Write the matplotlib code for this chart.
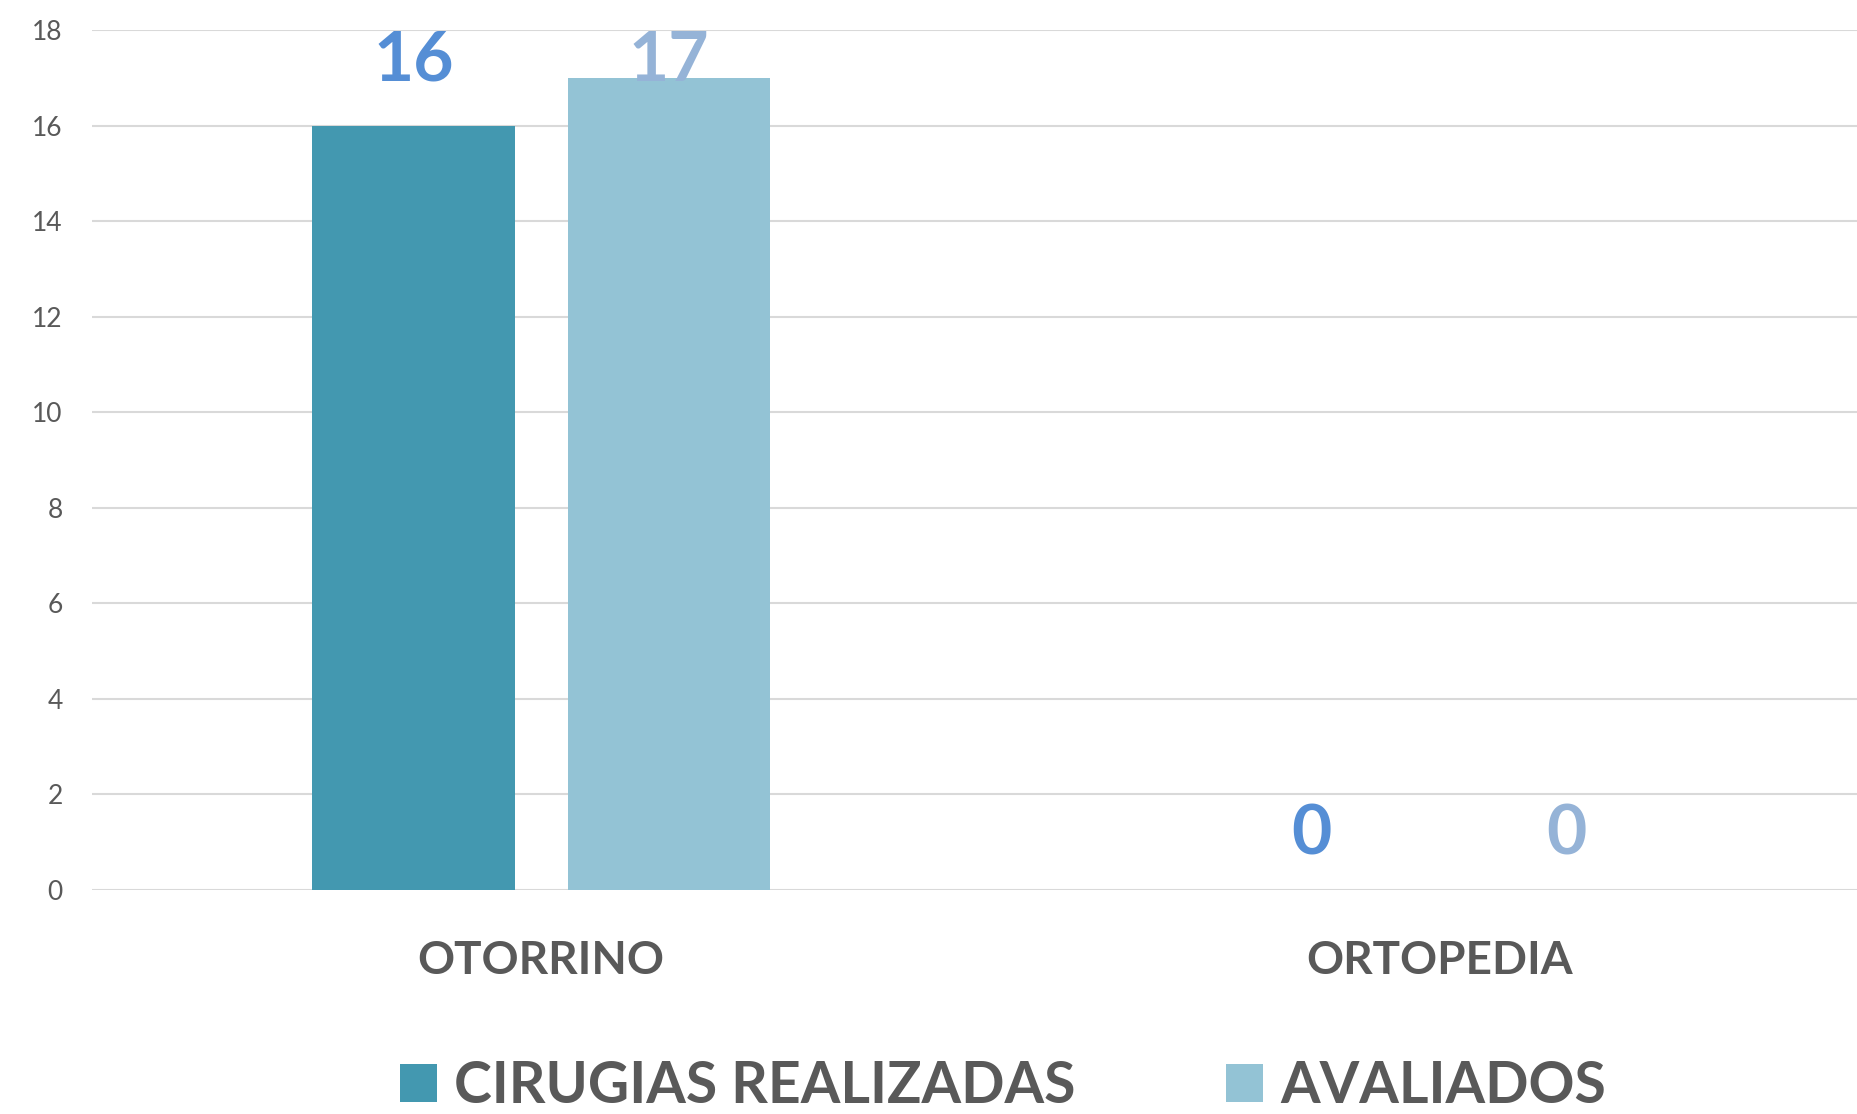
import numpy as np
import matplotlib
matplotlib.use("Agg")
import matplotlib.pyplot as plt
from matplotlib.patches import Patch

# Data
categorias = ["OTORRINO", "ORTOPEDIA"]
cirugias = [16, 0]
avaliados = [17, 0]
series_names = ["CIRUGIAS REALIZADAS", "AVALIADOS"]
y_ticks = [0, 2, 4, 6, 8, 10, 12, 14, 16, 18]

bar_colors = ["#4398B0", "#93C3D5"]
label_colors = ["#558ED5", "#95B3D7"]
text_gray = "#595959"
grid_gray = "#D9D9D9"

plt.rcParams["font.family"] = ["Lato", "DejaVu Sans"]

fig = plt.figure(figsize=(18.57, 11.14), dpi=100)
ax = fig.add_axes([0.0495, 0.2011, 0.9505, 0.772])

x = np.arange(len(categorias))
width = 0.225
offset = 0.142

for i, vals in enumerate([cirugias, avaliados]):
    pos = x + (i * 2 - 1) * offset
    ax.bar(pos, vals, width=width, color=bar_colors[i], zorder=3)
    for xp, v in zip(pos, vals):
        # value labels sit above the bar; near the top they are pinned
        # just under the top gridline
        ypos = v + 1.15
        if ypos > 16.5:
            ypos = 17.35
        ax.text(xp, ypos, f"{v}", ha="center", va="center",
                fontsize=50, fontweight="bold", color=label_colors[i],
                zorder=4)

ax.set_xlim(-0.5, 1.465)
ax.set_ylim(0, 18)
ax.set_yticks(y_ticks)
ax.set_xticks(x)
ax.set_xticklabels(categorias, fontsize=33, fontweight="bold", color=text_gray)
ax.tick_params(axis="x", length=0, pad=36)
ax.tick_params(axis="y", length=0, pad=21, labelsize=19, labelcolor=text_gray)

ax.grid(axis="y", color=grid_gray, linewidth=1.5, zorder=0)
ax.set_axisbelow(True)
for s in ax.spines.values():
    s.set_visible(False)

handles = [Patch(facecolor=c, edgecolor="none") for c in bar_colors]
leg = fig.legend(handles, series_names, loc="lower center",
                 bbox_to_anchor=(0.54, -0.045), ncol=2, frameon=False,
                 prop={"size": 41, "weight": "bold"},
                 handlelength=0.65, handleheight=0.65,
                 handletextpad=0.3, columnspacing=2.65)
for t in leg.get_texts():
    t.set_color(text_gray)

fig.savefig("out.png", dpi=100)
